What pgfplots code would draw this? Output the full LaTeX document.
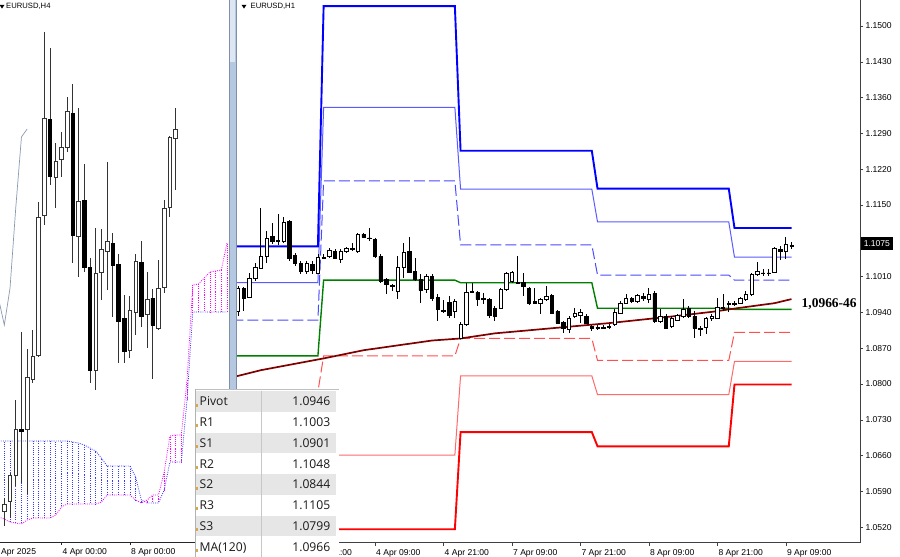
\documentclass[border=0pt]{standalone}
\usepackage{fontspec}
\setmainfont{Liberation Sans}
\newfontfamily\tabfont{Open Sans}
\newfontfamily\serifb{Liberation Serif}
\usepackage{pgfplots}
\usepackage{pgfplotstable}
\pgfplotsset{compat=1.18}

\definecolor{rthree}{HTML}{0000FF}
\definecolor{rtwo}{HTML}{5A5AFF}
\definecolor{rone}{HTML}{4B4BFF}
\definecolor{piv}{HTML}{008000}
\definecolor{sone}{HTML}{FF5050}
\definecolor{stwo}{HTML}{FF6B6B}
\definecolor{sthree}{HTML}{FF0000}
\definecolor{maline}{HTML}{800000}
\definecolor{kumoA}{HTML}{FF00FF}
\definecolor{kumoB}{HTML}{3A3AFF}
\definecolor{chik}{HTML}{8A9AB0}
\definecolor{sepfill}{HTML}{B4C8E2}
\definecolor{sepedge}{HTML}{7F8FA6}
\definecolor{rowgray}{HTML}{E6E6E6}
\definecolor{markc}{HTML}{D9A84E}

\newcommand\tickfont{\fontsize{8.6}{9}\selectfont}

% ---------- H4 candles (vertical position in screen units, downward) ----------
\pgfplotstableread{
k o h l c
0 511 498 526 504
1 501 473 518 475
2 475 400 486 429
3 429 332 483 431
4 429 349 494 377
5 379 330 383 356
6 355 202 357 217
7 215 32 225 118
8 119 48 185 176
9 177 143 208 161
10 159 132 177 147
11 147 97 152 111
12 113 84 263 235
13 236 108 277 201
14 200 164 272 267
15 267 258 383 370
16 370 228 390 273
17 272 229 300 249
18 251 162 290 241
19 243 233 317 265
20 264 254 363 321
21 318 295 363 351
22 350 296 358 310
23 312 254 335 261
24 262 241 327 316
25 314 272 348 299
26 298 289 379 325
27 328 260 330 288
28 287 200 293 208
29 207 136 217 137
30 138 108 190 129
}\hfour

\pgfplotstableread{
k a b
-1 517 441
0 519 441
1 522 441
2 523 441
3 524 441
4 520 441
5 518 441
6 518 441
7 518 441
8 518 441
9 515 441
10 507 441
11 504 441
12 504 442
13 504 443
14 504 445
15 504 448
16 504 451
17 502 458
18 495 466
19 495 466
20 495 466
21 495 466
22 495 466
23 500 477
24 503 500
25 500 503
26 495 503
27 495 503
28 472 490
29 436 462
30 435 462
31 435 462
32 380 400
33 285 312
34 284 312
35 278 312
36 272 312
37 271 312
38 270 312
39 243 312
}\kumo

\pgfplotstableread{
k y
-1 299
0 325
1 288
2 208
3 137
4 129
}\chikou

% ---------- H1 candles (price) ----------
\pgfplotstableread{
i o h l c
0 1.0942 1.09908 1.09322 1.09869
1 1.09869 1.09889 1.0942 1.09674
2 1.09693 1.10162 1.09674 1.10065
3 1.10065 1.10358 1.10006 1.1028
4 1.1026 1.11433 1.10241 1.10495
5 1.10495 1.10984 1.10358 1.10847
6 1.10886 1.1114 1.10729 1.10788
7 1.10808 1.11316 1.1071 1.10798
8 1.10788 1.11257 1.10749 1.1116
9 1.11179 1.11199 1.10397 1.10456
10 1.10514 1.10553 1.10299 1.10358
11 1.10358 1.10397 1.10143 1.10202
12 1.10202 1.10397 1.10143 1.10358
13 1.10338 1.10397 1.10143 1.10221
14 1.10162 1.10534 1.10143 1.10475
15 1.10475 1.10534 1.10436 1.10466
16 1.10495 1.10651 1.10456 1.10612
17 1.10593 1.10632 1.10436 1.10456
18 1.10436 1.10632 1.10358 1.10593
19 1.10593 1.10671 1.10553 1.10651
20 1.10651 1.10749 1.10593 1.10632
21 1.10593 1.10944 1.10553 1.10925
22 1.10925 1.10944 1.10847 1.10866
23 1.10856 1.11042 1.10788 1.10847
24 1.10827 1.10847 1.10456 1.10495
25 1.10495 1.10534 1.09967 1.10006
26 1.10045 1.10065 1.09752 1.09947
27 1.09928 1.09947 1.0981 1.09908
28 1.0981 1.10495 1.09654 1.1028
29 1.1028 1.10749 1.10065 1.10573
30 1.10593 1.10866 1.10162 1.10182
31 1.10202 1.10456 1.10006 1.10045
32 1.10045 1.10143 1.09576 1.0983
33 1.0985 1.10143 1.09771 1.10104
34 1.10104 1.10143 1.09615 1.09674
35 1.09693 1.09752 1.09224 1.09459
36 1.09439 1.09635 1.0938 1.09429
37 1.09596 1.09713 1.09283 1.09341
38 1.0942 1.09654 1.09283 1.09615
39 1.08892 1.09205 1.08872 1.09165
40 1.09165 1.09967 1.09126 1.09791
41 1.0981 1.09967 1.09771 1.09791
42 1.09791 1.0981 1.09517 1.09654
43 1.09674 1.09771 1.09556 1.09664
44 1.09654 1.09674 1.09283 1.09341
45 1.09478 1.09517 1.09224 1.09322
46 1.09478 1.09869 1.09459 1.0985
47 1.0985 1.10182 1.0981 1.10162
48 1.10006 1.10202 1.09967 1.10182
49 1.09987 1.10495 1.09947 1.09977
50 1.09987 1.10162 1.09713 1.09908
51 1.09869 1.09908 1.09556 1.09576
52 1.09615 1.09869 1.09556 1.09576
53 1.09576 1.09674 1.09361 1.09654
54 1.09654 1.09908 1.09615 1.09713
55 1.09732 1.09752 1.09361 1.0938
56 1.0942 1.09439 1.09165 1.09185
57 1.09205 1.09224 1.08989 1.09087
58 1.09068 1.09322 1.08989 1.09283
59 1.09322 1.09478 1.09283 1.0938
60 1.09341 1.09459 1.09185 1.094
61 1.09322 1.09361 1.09165 1.09185
62 1.09126 1.09146 1.09029 1.09087
63 1.09107 1.09146 1.09048 1.09097
64 1.09107 1.09146 1.09068 1.09097
65 1.09126 1.09165 1.09068 1.09116
66 1.09165 1.09459 1.09126 1.094
67 1.0938 1.09615 1.09361 1.09576
68 1.09576 1.09752 1.09556 1.09674
69 1.09674 1.09693 1.09576 1.09615
70 1.09615 1.09752 1.09576 1.09732
71 1.09713 1.09771 1.09615 1.09674
72 1.09654 1.09869 1.09576 1.09752
73 1.09771 1.0981 1.09185 1.09224
74 1.09224 1.09459 1.09185 1.09322
75 1.09322 1.09361 1.09068 1.09087
76 1.09126 1.09322 1.09087 1.09283
77 1.09244 1.09361 1.09224 1.09341
78 1.09322 1.09654 1.09283 1.09459
79 1.09478 1.09517 1.09283 1.09322
80 1.09322 1.0942 1.08892 1.09087
81 1.09087 1.09126 1.08931 1.09077
82 1.09107 1.09302 1.0897 1.09283
83 1.09283 1.09361 1.09224 1.09322
84 1.09283 1.09674 1.09263 1.09498
85 1.09498 1.09752 1.0942 1.09488
86 1.09576 1.09615 1.094 1.09566
87 1.09576 1.09615 1.09517 1.09566
88 1.09576 1.09693 1.09556 1.09674
89 1.09654 1.0981 1.09615 1.09752
90 1.09752 1.10162 1.09713 1.10143
91 1.10143 1.10378 1.10104 1.10202
92 1.10172 1.10241 1.10104 1.10162
93 1.10172 1.1026 1.10104 1.10162
94 1.10182 1.10671 1.10162 1.10651
95 1.10632 1.1069 1.10417 1.10593
96 1.10593 1.10866 1.10436 1.10729
97 1.1071 1.10769 1.10632 1.107
}\hone

\pgfplotstableread{
x r3 r2 r1 p s1 s2 s3
-1 1.1069 1.0998 1.0925 1.0855 1.0785 1.0720 1.0650
14 1.1069 1.0998 1.0925 1.0855 1.0785 1.0720 1.0650
15 1.1539 1.1341 1.1197 1.1003 1.0855 1.0661 1.0516
38 1.1539 1.1341 1.1197 1.1003 1.0855 1.0661 1.0516
39 1.1256 1.1181 1.1072 1.0998 1.0889 1.0816 1.0706
62 1.1256 1.1181 1.1072 1.0998 1.0889 1.0816 1.0706
63 1.1182 1.1117 1.1013 1.0948 1.0846 1.0779 1.0678
86 1.1182 1.1117 1.1013 1.0948 1.0846 1.0779 1.0678
87 1.1105 1.1048 1.1003 1.0946 1.0901 1.0844 1.0799
97 1.1105 1.1048 1.1003 1.0946 1.0901 1.0844 1.0799
}\pivots

\pgfplotstableread{
x y
-1 1.0813
4 1.0827
15 1.0850
22 1.0866
34 1.0885
39 1.0889
45 1.0899
55 1.0909
65 1.0919
76 1.0932
83 1.0941
88 1.0949
94 1.0958
97 1.0966
}\maline

\pgfplotsset{
  hfourgeom/.style={at={(0bp,0bp)}, anchor=north west, scale only axis,
    width=229bp, height=542bp, xmin=-0.758, xmax=39.35, ymin=0, ymax=542, y dir=reverse},
  honegeom/.style={at={(237bp,0bp)}, anchor=north west, scale only axis,
    width=623bp, height=542.5bp, xmin=-0.18, xmax=109, ymin=1.049003, ymax=1.155084},
  invis/.style={only marks, mark=*, mark size=0.01bp, mark options={draw opacity=0, fill opacity=0}},
}

\begin{document}
\begin{tikzpicture}[x=1bp,y=1bp]
\useasboundingbox (0,0) rectangle (900,-557);
\fill[white] (0,0) rectangle (900,-557);

% ================= H4 panel =================
\begin{axis}[hfourgeom,
  axis x line*=bottom, axis y line=none, ytick=\empty,
  axis line style={-, draw=black!85, line width=0.6bp},
  tick align=outside, major tick length=3bp, tick style={black!85, line width=0.5bp},
  xtick={10,22}, xticklabels={4 Apr 00:00,8 Apr 00:00},
  xticklabel style={anchor=north west, inner xsep=0pt, xshift=1bp, font=\tickfont},
  clip mode=individual]
  \addplot[invis, restrict x to domain=-2:24.5, error bars/.cd, y dir=both, y explicit, error mark=none,
    error bar style={kumoB, line width=0.7bp, dash pattern=on 0.9bp off 1.3bp}]
    table[x=k, y expr={(\thisrow{a}+\thisrow{b})/2}, y error expr={abs(\thisrow{a}-\thisrow{b})/2}] {\kumo};
  \addplot[invis, restrict x to domain=24.5:40, error bars/.cd, y dir=both, y explicit, error mark=none,
    error bar style={kumoA, line width=0.7bp, dash pattern=on 0.9bp off 1.3bp}]
    table[x=k, y expr={(\thisrow{a}+\thisrow{b})/2}, y error expr={abs(\thisrow{a}-\thisrow{b})/2}] {\kumo};
  \addplot[kumoB, line width=0.8bp, dash pattern=on 0.9bp off 1.3bp] table[x=k, y=b] {\kumo};
  \addplot[kumoA, line width=0.8bp, dash pattern=on 0.9bp off 1.3bp] table[x=k, y=a] {\kumo};
  \addplot[chik, line width=0.7bp] table[x=k, y=y] {\chikou};
  \addplot[invis, error bars/.cd, y dir=both, y explicit, error mark=none,
    error bar style={black!80, line width=0.9bp}]
    table[x=k, y expr={(\thisrow{h}+\thisrow{l})/2}, y error expr={(\thisrow{l}-\thisrow{h})/2}] {\hfour};
  \node[anchor=north west, inner xsep=0pt, xshift=1bp, yshift=-3bp, font=\tickfont] at (axis cs:-2,542) {2 Apr 2025};
\end{axis}
\begin{axis}[hfourgeom, hide axis, ybar stacked, bar width=3.6bp]
  \addplot[draw=none, fill=none] table[x=k, y expr={min(\thisrow{o},\thisrow{c})}] {\hfour};
  \addplot[fill=white, draw=black!80, line width=0.7bp] table[x=k, y expr={max(\thisrow{o}-\thisrow{c},0)}] {\hfour};
  \addplot[fill=black, draw=black, line width=0.7bp] table[x=k, y expr={max(\thisrow{c}-\thisrow{o},0)}] {\hfour};
\end{axis}

% ================= separator =================
\fill[sepfill] (228.5,0) rectangle (237,-557);
\fill[sepfill!45!white] (230,0) rectangle (235.4,-62);
\draw[sepedge, line width=0.8bp] (228.9,0) -- (228.9,-557);
\draw[sepedge, line width=0.8bp] (236.6,0) -- (236.6,-557);

% ================= H1 panel =================
\begin{axis}[honegeom,
  axis x line*=bottom, axis y line*=right,
  axis line style={-, draw=black!75, line width=0.6bp},
  tick align=outside, major tick length=3bp, tick style={black!75, line width=0.5bp},
  xtick={12,24,36,48,60,72,84,96},
  xticklabels={3 Apr 21:00,4 Apr 09:00,4 Apr 21:00,7 Apr 09:00,7 Apr 21:00,8 Apr 09:00,8 Apr 21:00,9 Apr 09:00},
  xticklabel style={anchor=north west, inner xsep=0pt, xshift=1bp, font=\tickfont},
  ytick={1.052,1.059,1.066,1.073,1.080,1.087,1.094,1.101,1.115,1.122,1.129,1.136,1.143,1.150},
  yticklabels={1.0520,1.0590,1.0660,1.0730,1.0800,1.0870,1.0940,1.1010,1.1150,1.1220,1.1290,1.1360,1.1430,1.1500},
  yticklabel style={font=\tickfont, xshift=-1bp},
  clip mode=individual]
  \addplot[sthree, line width=1.9bp] table[x=x, y=s3] {\pivots};
  \addplot[stwo, line width=1bp] table[x=x, y=s2] {\pivots};
  \addplot[sone, line width=1bp, dash pattern=on 11bp off 4bp] table[x=x, y=s1] {\pivots};
  \addplot[rone, line width=1bp, dash pattern=on 11bp off 4bp] table[x=x, y=r1] {\pivots};
  \addplot[rtwo, line width=1bp] table[x=x, y=r2] {\pivots};
  \addplot[rthree, line width=1.9bp] table[x=x, y=r3] {\pivots};
  \addplot[piv, line width=1.4bp] table[x=x, y=p] {\pivots};
  \addplot[maline, line width=1.7bp] table[x=x, y=y] {\maline};
  \addplot[invis, error bars/.cd, y dir=both, y explicit, error mark=none,
    error bar style={black, line width=0.8bp}]
    table[x=i, y expr={(\thisrow{h}+\thisrow{l})/2}, y error expr={(\thisrow{h}-\thisrow{l})/2}] {\hone};
  \node[anchor=west, inner sep=0pt, font=\serifb\bfseries\fontsize{13.5}{14}\selectfont] at (axis cs:98.75,1.0956) {1,0966-46};
  \node[anchor=west, fill=black, text=white, inner xsep=3bp, inner ysep=0pt, minimum height=13bp, font=\tickfont] at (axis cs:109.1,1.1075) {1.1075};
\end{axis}
\begin{axis}[honegeom, hide axis, ybar stacked, bar width=3.4bp]
  \addplot[draw=none, fill=none] table[x=i, y expr={min(\thisrow{o},\thisrow{c})}] {\hone};
  \addplot[fill=white, draw=black, line width=0.6bp] table[x=i, y expr={max(\thisrow{c}-\thisrow{o},0)}] {\hone};
  \addplot[fill=black, draw=black, line width=0.6bp] table[x=i, y expr={max(\thisrow{o}-\thisrow{c},0)}] {\hone};
\end{axis}

% ================= titles =================
\fill[black] (-0.5,-4.8) -- (4.5,-4.8) -- (2,-8.6) -- cycle;
\node[anchor=west, inner sep=0pt, font=\fontsize{7.7}{8}\selectfont] at (6,-6.8) {EURUSD,H4};
\fill[black] (241.5,-4.8) -- (246.5,-4.8) -- (244,-8.6) -- cycle;
\node[anchor=west, inner sep=0pt, font=\fontsize{7.7}{8}\selectfont] at (250.5,-6.8) {EURUSD,H1};

% ================= pivot table =================
\fill[white] (195,-388.5) rectangle (339,-557);
\foreach \j in {0,2,4,6} {
  \fill[rowgray] (196,{-(391+20.75*\j)}) rectangle (336,{-(391+20.75*\j+20.75)});
}
\draw[black!25, line width=0.6bp] (195,-388.8) -- (339,-388.8);
\draw[black!30, line width=0.6bp] (195.3,-388.5) -- (195.3,-557);
\draw[black!22, line width=0.8bp] (261.3,-391) -- (261.3,-557);
\foreach \n/\v [count=\j from 0] in {Pivot/1.0946,R1/1.1003,S1/1.0901,R2/1.1048,S2/1.0844,R3/1.1105,S3/1.0799,{MA(120)}/1.0966} {
  \fill[markc] (196.2,{-(403.5+20.75*\j)}) rectangle (197.7,{-(406.5+20.75*\j)});
  \node[anchor=base west, inner sep=0pt, text=black!90, font=\tabfont\fontsize{12.2}{13}\selectfont] at (199.5,{-(405.8+20.75*\j)}) {\n};
  \node[anchor=base east, inner sep=0pt, text=black!90, font=\tabfont\fontsize{12.2}{13}\selectfont] at (330.5,{-(405.8+20.75*\j)}) {\v};
}
\end{tikzpicture}
\end{document}
